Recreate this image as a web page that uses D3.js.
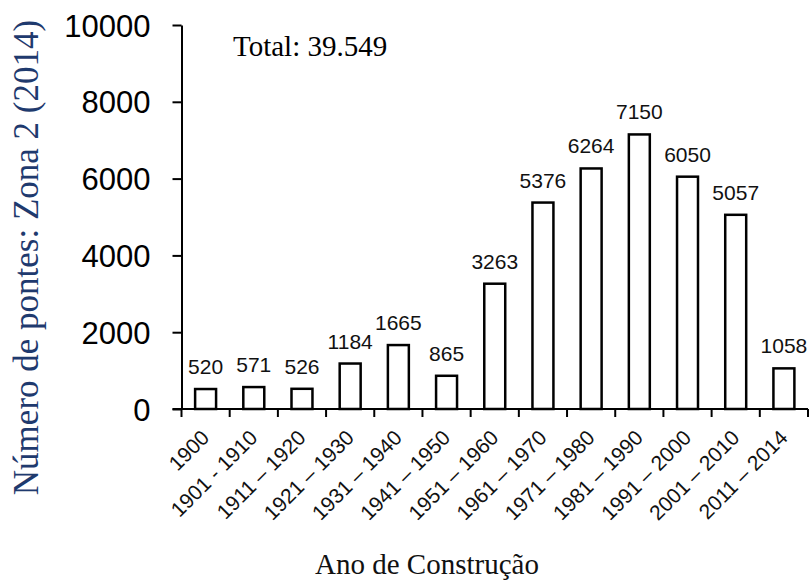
<!DOCTYPE html>
<html>
<head>
<meta charset="utf-8">
<script src="https://cdn.jsdelivr.net/npm/d3@7"></script>
<style>
  body { margin: 0; background: #fff; }
  svg { display: block; }
  .axis path, .axis line { stroke: #000; stroke-width: 2; }
  .axis text { font-family: Arial, "Liberation Sans", sans-serif; fill: #000; }
</style>
</head>
<body>
<div class="wrapper"></div>
<script>
var width = 811,
  height = 581;

// data
var categories = ["1900", "1901 - 1910", "1911 – 1920", "1921 – 1930", "1931 – 1940",
  "1941 – 1950", "1951 – 1960", "1961 – 1970", "1971 – 1980", "1981 – 1990",
  "1991 – 2000", "2001 – 2010", "2011 – 2014"];
var values = [520, 571, 526, 1184, 1665, 865, 3263, 5376, 6264, 7150, 6050, 5057, 1058];
var yTicks = [0, 2000, 4000, 6000, 8000, 10000];
var totalLabel = "Total: 39.549";
var yTitle = "Número de pontes: Zona 2 (2014)";
var xTitle = "Ano de Construção";

var plot = { left: 181.5, right: 808, top: 25, bottom: 409 };

var svg = d3.select(".wrapper").append("svg")
  .attr("width", width)
  .attr("height", height);

var x = d3.scaleBand()
  .domain(categories)
  .range([plot.left, plot.right])
  .paddingInner(0.565)
  .paddingOuter(0.2825);

var y = d3.scaleLinear()
  .domain([0, 10000])
  .range([plot.bottom, plot.top]);

// bars
svg.append("g").selectAll("rect")
  .data(values)
  .join("rect")
  .attr("x", (d, i) => x(categories[i]))
  .attr("y", d => y(d))
  .attr("width", x.bandwidth())
  .attr("height", d => y(0) - y(d))
  .attr("fill", "#fff")
  .attr("stroke", "#000")
  .attr("stroke-width", 2.5);

// value labels
svg.append("g").selectAll("text")
  .data(values)
  .join("text")
  .attr("x", (d, i) => x(categories[i]) + x.bandwidth() / 2)
  .attr("y", d => y(d) - 15)
  .attr("text-anchor", "middle")
  .style("font-family", "Arial, 'Liberation Sans', sans-serif")
  .style("font-size", "21px")
  .style("fill", "#111")
  .text(d => d);

// y axis
var yAxis = svg.append("g")
  .attr("class", "axis")
  .attr("transform", `translate(${plot.left},0)`)
  .call(d3.axisLeft(y).tickValues(yTicks).tickSize(9).tickSizeOuter(0).tickPadding(22).tickFormat(d3.format("d")));
yAxis.selectAll("text").style("font-size", "31px").attr("dy", "0.36em");

// x axis line with ticks at the band edges
var xAxisG = svg.append("g").attr("class", "axis");
xAxisG.append("line")
  .attr("x1", plot.left - 9)
  .attr("x2", plot.right)
  .attr("y1", y(0))
  .attr("y2", y(0));
var edges = d3.range(categories.length + 1).map(i => plot.left + i * x.step());
xAxisG.selectAll(".edge")
  .data(edges)
  .join("line")
  .attr("class", "edge")
  .attr("x1", d => d)
  .attr("x2", d => d)
  .attr("y1", y(0))
  .attr("y2", y(0) + 8);

// rotated category labels
svg.append("g").selectAll("text")
  .data(categories)
  .join("text")
  .attr("transform", d => `translate(${x(d) + x.bandwidth() / 2 + 5},${y(0) + 30}) rotate(-45)`)
  .attr("text-anchor", "end")
  .style("font-family", "Arial, 'Liberation Sans', sans-serif")
  .style("font-size", "21px")
  .style("fill", "#111")
  .text(d => d);

// total note
svg.append("text")
  .attr("x", 233)
  .attr("y", 56)
  .style("font-family", "'Times New Roman', 'Liberation Serif', serif")
  .style("font-size", "29px")
  .text(totalLabel);

// axis titles
svg.append("text")
  .attr("transform", `translate(38,${(15 + 500) / 2}) rotate(-90)`)
  .attr("text-anchor", "middle")
  .style("font-family", "'Times New Roman', 'Liberation Serif', serif")
  .style("font-size", "35px")
  .style("fill", "#1f3a6e")
  .text(yTitle);

svg.append("text")
  .attr("x", 427)
  .attr("y", 574)
  .attr("text-anchor", "middle")
  .style("font-family", "'Times New Roman', 'Liberation Serif', serif")
  .style("font-size", "29px")
  .style("fill", "#111")
  .text(xTitle);
</script>
</body>
</html>
